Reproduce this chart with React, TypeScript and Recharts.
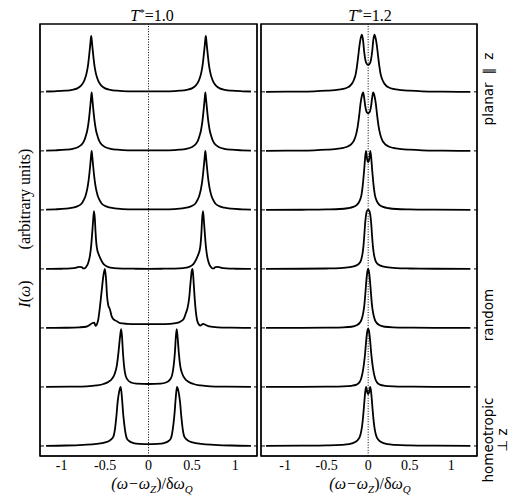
import React from "react";
import { LineChart, Line, XAxis, YAxis, ReferenceLine, ReferenceArea } from "recharts";

type Pt = [number, number];

const serif = "'Liberation Serif', 'Times New Roman', serif";
const sans = "'DejaVu Sans', sans-serif";

const xTicks = [-1, -0.5, 0, 0.5, 1];
const baselineTicks = [0, 1, 2, 3, 4, 5, 6];
const leftDomain: [number, number] = [-1.25, 1.25];
const rightDomain: [number, number] = [-1.29, 1.31];
const yDomain: [number, number] = [-0.17, 7.15];

// T* = 1.0, top (planar) to bottom (homeotropic)
const t10a: Pt[] = [
	[-1.18, 0.006], [-1.08, 0.01], [-0.96, 0.02], [-0.88, 0.035], [-0.82, 0.06], [-0.78, 0.1], [-0.75, 0.16],
	[-0.73, 0.23], [-0.71, 0.34], [-0.695, 0.47], [-0.685, 0.6], [-0.675, 0.74], [-0.668, 0.85], [-0.66, 0.95],
	[-0.652, 0.85], [-0.645, 0.74], [-0.635, 0.6], [-0.625, 0.47], [-0.61, 0.34], [-0.59, 0.23], [-0.57, 0.16],
	[-0.54, 0.1], [-0.5, 0.06], [-0.44, 0.035], [-0.36, 0.02], [-0.24, 0.01], [0, 0.008],
	[0.24, 0.01], [0.36, 0.02], [0.44, 0.035], [0.5, 0.06], [0.54, 0.1], [0.57, 0.16], [0.59, 0.23], [0.61, 0.34],
	[0.625, 0.47], [0.635, 0.6], [0.645, 0.74], [0.652, 0.85], [0.66, 0.95], [0.668, 0.85], [0.675, 0.74],
	[0.685, 0.6], [0.695, 0.47], [0.71, 0.34], [0.73, 0.23], [0.75, 0.16], [0.78, 0.1], [0.82, 0.06],
	[0.88, 0.035], [0.96, 0.02], [1.08, 0.01], [1.18, 0.006],
];
const t10b: Pt[] = [
	[-1.18, 0.006], [-1.075, 0.01], [-0.955, 0.02], [-0.875, 0.036], [-0.815, 0.062], [-0.775, 0.1], [-0.745, 0.16],
	[-0.725, 0.24], [-0.705, 0.35], [-0.69, 0.49], [-0.68, 0.62], [-0.67, 0.77], [-0.663, 0.88], [-0.655, 0.99],
	[-0.647, 0.88], [-0.64, 0.77], [-0.63, 0.62], [-0.62, 0.49], [-0.605, 0.35], [-0.585, 0.24], [-0.565, 0.16],
	[-0.535, 0.1], [-0.495, 0.062], [-0.435, 0.036], [-0.355, 0.02], [-0.235, 0.01], [0, 0.008],
	[0.235, 0.01], [0.355, 0.02], [0.435, 0.036], [0.495, 0.062], [0.535, 0.1], [0.565, 0.16], [0.585, 0.24],
	[0.605, 0.35], [0.62, 0.49], [0.63, 0.62], [0.64, 0.77], [0.647, 0.88], [0.655, 0.99], [0.663, 0.88],
	[0.67, 0.77], [0.68, 0.62], [0.69, 0.49], [0.705, 0.35], [0.725, 0.24], [0.745, 0.16], [0.775, 0.1],
	[0.815, 0.062], [0.875, 0.036], [0.955, 0.02], [1.075, 0.01], [1.18, 0.006],
];
const t10c: Pt[] = [
	[-1.18, 0.006], [-1.075, 0.01], [-0.955, 0.02], [-0.875, 0.037], [-0.815, 0.064], [-0.775, 0.1], [-0.745, 0.17],
	[-0.725, 0.24], [-0.705, 0.36], [-0.69, 0.5], [-0.68, 0.63], [-0.67, 0.78], [-0.663, 0.89], [-0.655, 1.0],
	[-0.647, 0.89], [-0.64, 0.78], [-0.63, 0.63], [-0.62, 0.5], [-0.605, 0.36], [-0.585, 0.24], [-0.565, 0.17],
	[-0.535, 0.1], [-0.495, 0.064], [-0.435, 0.037], [-0.355, 0.02], [-0.235, 0.01], [0, 0.008],
	[0.235, 0.01], [0.355, 0.02], [0.435, 0.037], [0.495, 0.064], [0.535, 0.1], [0.565, 0.17], [0.585, 0.24],
	[0.605, 0.36], [0.62, 0.5], [0.63, 0.63], [0.64, 0.78], [0.647, 0.89], [0.655, 1.0], [0.663, 0.89],
	[0.67, 0.78], [0.68, 0.63], [0.69, 0.5], [0.705, 0.36], [0.725, 0.24], [0.745, 0.17], [0.775, 0.1],
	[0.815, 0.064], [0.875, 0.037], [0.955, 0.02], [1.075, 0.01], [1.18, 0.006],
];
const t10d: Pt[] = [
	[-1.18, 0], [-1.0, 0.003], [-0.9, 0.008], [-0.84, 0.018], [-0.8, 0.035], [-0.77, 0.03], [-0.75, 0.008],
	[-0.735, 0.01], [-0.715, 0.04], [-0.695, 0.1], [-0.675, 0.22], [-0.66, 0.4], [-0.648, 0.62], [-0.638, 0.82],
	[-0.628, 0.98], [-0.618, 0.85], [-0.61, 0.62], [-0.6, 0.42], [-0.59, 0.32], [-0.575, 0.25], [-0.555, 0.18],
	[-0.53, 0.11], [-0.5, 0.06], [-0.46, 0.03], [-0.4, 0.015], [-0.3, 0.006], [-0.15, 0.003], [0, 0.002],
	[0.15, 0.003], [0.3, 0.006], [0.4, 0.015], [0.46, 0.03], [0.5, 0.06], [0.53, 0.11], [0.555, 0.18],
	[0.575, 0.25], [0.59, 0.32], [0.6, 0.42], [0.61, 0.62], [0.618, 0.85], [0.628, 0.98], [0.638, 0.82],
	[0.648, 0.62], [0.66, 0.4], [0.675, 0.22], [0.695, 0.1], [0.715, 0.04], [0.735, 0.01], [0.75, 0.008],
	[0.77, 0.03], [0.8, 0.035], [0.84, 0.018], [0.9, 0.008], [1.0, 0.003], [1.18, 0],
];
const t10e: Pt[] = [
	[-1.18, 0], [-0.95, 0.003], [-0.8, 0.01], [-0.72, 0.02], [-0.68, 0.05], [-0.65, 0.08], [-0.625, 0.09],
	[-0.61, 0.035], [-0.595, 0.06], [-0.578, 0.15], [-0.56, 0.35], [-0.54, 0.62], [-0.52, 0.88], [-0.503, 1.0],
	[-0.49, 0.85], [-0.478, 0.55], [-0.463, 0.38], [-0.443, 0.31], [-0.425, 0.2], [-0.405, 0.15], [-0.36, 0.11],
	[-0.33, 0.08], [-0.25, 0.07], [-0.12, 0.065], [0, 0.065],
	[0.12, 0.065], [0.25, 0.07], [0.33, 0.085], [0.37, 0.11], [0.405, 0.15], [0.43, 0.25], [0.45, 0.34],
	[0.468, 0.5], [0.485, 0.78], [0.5, 0.98], [0.508, 1.0], [0.518, 0.82], [0.532, 0.5], [0.545, 0.28],
	[0.56, 0.13], [0.58, 0.06], [0.6, 0.04], [0.63, 0.07], [0.66, 0.05], [0.7, 0.025], [0.8, 0.01],
	[0.95, 0.004], [1.18, 0],
];
const t10f: Pt[] = [
	[-1.18, 0], [-0.9, 0.004], [-0.71, 0.01], [-0.6, 0.025], [-0.52, 0.05], [-0.46, 0.09], [-0.42, 0.14],
	[-0.39, 0.22], [-0.365, 0.36], [-0.345, 0.6], [-0.328, 0.85], [-0.315, 0.98], [-0.305, 0.85], [-0.295, 0.6],
	[-0.282, 0.36], [-0.265, 0.2], [-0.24, 0.12], [-0.2, 0.075], [-0.14, 0.055], [0, 0.05],
	[0.14, 0.055], [0.2, 0.075], [0.245, 0.12], [0.272, 0.2], [0.29, 0.36], [0.305, 0.6], [0.315, 0.85],
	[0.325, 0.98], [0.335, 0.85], [0.348, 0.6], [0.365, 0.36], [0.39, 0.22], [0.42, 0.14], [0.46, 0.09],
	[0.52, 0.05], [0.6, 0.025], [0.71, 0.01], [0.9, 0.004], [1.18, 0],
];
const t10g: Pt[] = [
	[-1.18, 0.003], [-0.95, 0.008], [-0.75, 0.02], [-0.6, 0.035], [-0.5, 0.06], [-0.44, 0.1], [-0.405, 0.16],
	[-0.385, 0.3], [-0.37, 0.5], [-0.355, 0.75], [-0.338, 0.92], [-0.32, 1.0], [-0.305, 0.8], [-0.292, 0.55],
	[-0.28, 0.38], [-0.265, 0.22], [-0.25, 0.13], [-0.22, 0.08], [-0.175, 0.05], [-0.1, 0.035], [0, 0.03],
	[0.1, 0.035], [0.18, 0.05], [0.228, 0.08], [0.258, 0.13], [0.273, 0.22], [0.288, 0.38], [0.3, 0.55],
	[0.313, 0.8], [0.328, 1.0], [0.346, 0.92], [0.363, 0.75], [0.378, 0.5], [0.393, 0.3], [0.413, 0.16],
	[0.448, 0.1], [0.508, 0.06], [0.608, 0.035], [0.758, 0.02], [0.958, 0.008], [1.18, 0.003],
];

// T* = 1.2
const t12a: Pt[] = [
	[-1.23, 0], [-0.9, 0.004], [-0.65, 0.01], [-0.5, 0.02], [-0.4, 0.03], [-0.3, 0.05], [-0.25, 0.075],
	[-0.22, 0.1], [-0.19, 0.15], [-0.17, 0.21], [-0.15, 0.3], [-0.135, 0.43], [-0.12, 0.6], [-0.105, 0.78],
	[-0.09, 0.91], [-0.075, 0.97], [-0.062, 0.88], [-0.048, 0.68], [-0.032, 0.53], [-0.015, 0.47], [0, 0.46],
	[0.015, 0.47], [0.032, 0.53], [0.048, 0.68], [0.062, 0.88], [0.075, 0.97], [0.09, 0.91], [0.105, 0.78],
	[0.12, 0.6], [0.135, 0.43], [0.15, 0.3], [0.17, 0.21], [0.19, 0.15], [0.22, 0.1], [0.25, 0.075],
	[0.3, 0.05], [0.4, 0.03], [0.5, 0.02], [0.65, 0.01], [0.9, 0.004], [1.23, 0],
];
const t12b: Pt[] = [
	[-1.23, 0], [-0.9, 0.004], [-0.65, 0.01], [-0.5, 0.02], [-0.4, 0.03], [-0.3, 0.05], [-0.24, 0.08],
	[-0.2, 0.12], [-0.17, 0.18], [-0.145, 0.28], [-0.125, 0.42], [-0.108, 0.6], [-0.092, 0.8], [-0.075, 0.94],
	[-0.06, 0.99], [-0.048, 0.9], [-0.035, 0.76], [-0.018, 0.66], [0, 0.64],
	[0.018, 0.66], [0.035, 0.76], [0.048, 0.9], [0.06, 0.99], [0.075, 0.94], [0.092, 0.8], [0.108, 0.6],
	[0.125, 0.42], [0.145, 0.28], [0.17, 0.18], [0.2, 0.12], [0.24, 0.08], [0.3, 0.05], [0.4, 0.03],
	[0.5, 0.02], [0.65, 0.01], [0.9, 0.004], [1.23, 0],
];
const t12c: Pt[] = [
	[-1.23, 0], [-0.8, 0.003], [-0.5, 0.008], [-0.34, 0.015], [-0.25, 0.028], [-0.18, 0.05], [-0.14, 0.08],
	[-0.115, 0.12], [-0.095, 0.18], [-0.08, 0.26], [-0.068, 0.38], [-0.058, 0.52], [-0.048, 0.68], [-0.038, 0.86],
	[-0.026, 1.0], [-0.015, 0.88], [-0.006, 0.82], [0, 0.81],
	[0.006, 0.82], [0.015, 0.88], [0.026, 1.0], [0.038, 0.86], [0.048, 0.68], [0.058, 0.52], [0.068, 0.38],
	[0.08, 0.26], [0.095, 0.18], [0.115, 0.12], [0.14, 0.08], [0.18, 0.05], [0.25, 0.028], [0.34, 0.015],
	[0.5, 0.008], [0.8, 0.003], [1.23, 0],
];
const t12d: Pt[] = [
	[-1.23, 0], [-0.8, 0.003], [-0.5, 0.007], [-0.34, 0.013], [-0.22, 0.03], [-0.15, 0.055], [-0.11, 0.09],
	[-0.085, 0.15], [-0.068, 0.26], [-0.056, 0.4], [-0.046, 0.58], [-0.036, 0.78], [-0.024, 0.93], [-0.012, 0.99],
	[0, 1.0], [0.012, 0.99], [0.024, 0.93], [0.036, 0.78], [0.046, 0.58], [0.056, 0.4], [0.068, 0.26],
	[0.085, 0.15], [0.11, 0.09], [0.15, 0.055], [0.22, 0.03], [0.34, 0.013], [0.5, 0.007], [0.8, 0.003], [1.23, 0],
];
const t12e: Pt[] = [
	[-1.23, 0], [-0.8, 0.002], [-0.5, 0.005], [-0.3, 0.01], [-0.2, 0.02], [-0.14, 0.045], [-0.1, 0.09],
	[-0.08, 0.14], [-0.06, 0.25], [-0.045, 0.4], [-0.033, 0.6], [-0.022, 0.8], [-0.01, 0.95], [0, 1.0],
	[0.01, 0.95], [0.022, 0.8], [0.033, 0.6], [0.045, 0.4], [0.06, 0.25], [0.08, 0.14], [0.1, 0.09],
	[0.14, 0.045], [0.2, 0.02], [0.3, 0.01], [0.5, 0.005], [0.8, 0.002], [1.23, 0],
];
const t12f: Pt[] = [
	[-1.23, 0], [-0.8, 0.002], [-0.5, 0.005], [-0.3, 0.01], [-0.2, 0.02], [-0.14, 0.04], [-0.105, 0.08],
	[-0.085, 0.14], [-0.066, 0.25], [-0.05, 0.4], [-0.036, 0.58], [-0.024, 0.78], [-0.011, 0.94], [0, 0.99],
	[0.011, 0.94], [0.024, 0.78], [0.036, 0.58], [0.05, 0.4], [0.066, 0.25], [0.085, 0.14], [0.105, 0.08],
	[0.14, 0.04], [0.2, 0.02], [0.3, 0.01], [0.5, 0.005], [0.8, 0.002], [1.23, 0],
];
const t12g: Pt[] = [
	[-1.23, 0.002], [-0.8, 0.005], [-0.5, 0.01], [-0.33, 0.018], [-0.23, 0.03], [-0.15, 0.07], [-0.12, 0.11],
	[-0.1, 0.16], [-0.085, 0.24], [-0.073, 0.34], [-0.062, 0.48], [-0.052, 0.64], [-0.043, 0.8], [-0.033, 0.94],
	[-0.024, 1.0], [-0.014, 0.93], [-0.006, 0.89], [0, 0.88],
	[0.006, 0.89], [0.014, 0.93], [0.024, 1.0], [0.033, 0.94], [0.043, 0.8], [0.052, 0.64], [0.062, 0.48],
	[0.073, 0.34], [0.085, 0.24], [0.1, 0.16], [0.12, 0.11], [0.15, 0.07], [0.23, 0.03], [0.33, 0.018],
	[0.5, 0.01], [0.8, 0.005], [1.23, 0.002],
];

const t10Spectra = [t10a, t10b, t10c, t10d, t10e, t10f, t10g];
const t12Spectra = [t12a, t12b, t12c, t12d, t12e, t12f, t12g];

const toRows = (pts: Pt[], level: number) => pts.map(([x, y]) => ({ x, y: y + level }));

// x tick label in Times-like serif
const XTick = ({ x, y, payload }: any) => (
	<text x={x} y={y} dy={10} textAnchor="middle" fontFamily={serif} fontSize={14} fill="#000">
		{payload.value}
	</text>
);

// short inward tick marks on the frame
const LeftTick = ({ x, y }: any) => <line x1={x} x2={x + 4} y1={y} y2={y} stroke="#000" strokeWidth={1} />;
const RightTick = ({ x, y }: any) => <line x1={x - 3} x2={x} y1={y} y2={y} stroke="#000" strokeWidth={1} />;

type PanelProps = {
	spectra: Pt[][];
	domain: [number, number];
	left: number;
	width: number;
	marginLeft: number;
	marginRight: number;
};

const SpectraPanel = ({ spectra, domain, left, width, marginLeft, marginRight }: PanelProps) => (
	<div style={{ position: "absolute", left, top: 0 }}>
		<LineChart
			width={width}
			height={497}
			margin={{ top: 24, right: marginRight, bottom: 0, left: marginLeft }}
		>
			<XAxis
				xAxisId="b"
				type="number"
				dataKey="x"
				domain={domain}
				ticks={xTicks}
				interval={0}
				allowDataOverflow
				height={41}
				stroke="#000"
				tickSize={0}
				tickMargin={4}
				tickLine={false}
				tick={<XTick />}
			/>
			<YAxis
				yAxisId="l"
				type="number"
				domain={yDomain}
				ticks={baselineTicks}
				interval={0}
				allowDataOverflow
				width={1}
				stroke="#000"
				tickSize={0}
				tickMargin={0}
				tickLine={false}
				tick={<LeftTick />}
			/>
			<YAxis
				yAxisId="r"
				orientation="right"
				type="number"
				domain={yDomain}
				ticks={baselineTicks}
				interval={0}
				allowDataOverflow
				width={1}
				stroke="#000"
				tickSize={0}
				tickMargin={0}
				tickLine={false}
				tick={<RightTick />}
			/>
			<ReferenceArea
				xAxisId="b"
				yAxisId="l"
				x1={domain[0]}
				x2={domain[1]}
				y1={yDomain[0]}
				y2={yDomain[1]}
				fill="none"
				fillOpacity={0}
				stroke="#000"
				strokeWidth={1.5}
				ifOverflow="visible"
			/>
			<ReferenceLine
				xAxisId="b"
				yAxisId="l"
				x={0}
				stroke="#000"
				strokeWidth={1}
				strokeDasharray="1 1.6"
			/>
			{spectra.map((pts, i) => (
				<Line
					key={i}
					xAxisId="b"
					yAxisId="l"
					data={toRows(pts, spectra.length - 1 - i)}
					dataKey="y"
					type="monotone"
					stroke="#000"
					strokeWidth={1.8}
					dot={false}
					isAnimationActive={false}
				/>
			))}
		</LineChart>
	</div>
);

const XLabel = ({ x }: { x: number }) => (
	<text x={x} y={489} textAnchor="middle" fontFamily={serif} fontSize={16} fill="#000">
		<tspan fontStyle="italic">(ω−ω</tspan>
		<tspan fontStyle="italic" fontSize={11} dy={4}>Z</tspan>
		<tspan dy={-4}>)/δ</tspan>
		<tspan fontStyle="italic">ω</tspan>
		<tspan fontStyle="italic" fontSize={11} dy={4}>Q</tspan>
	</text>
);

const Title = ({ x, t }: { x: number; t: string }) => (
	<text x={x} y={21} textAnchor="middle" fontFamily={serif} fontSize={16} fill="#000">
		<tspan fontStyle="italic">T</tspan>
		<tspan fontSize={11} dy={-5}>*</tspan>
		<tspan dy={5}>={t}</tspan>
	</text>
);

const SideLabel = ({ x, y, children }: { x: number; y: number; children: React.ReactNode }) => (
	<text
		x={x}
		y={y}
		transform={`rotate(-90 ${x} ${y})`}
		textAnchor="middle"
		fontFamily={sans}
		fontSize={13.5}
		fill="#000"
	>
		{children}
	</text>
);

export default function App() {
	return (
		<div style={{ position: "absolute", left: 0, top: 0, width: 512, height: 497, background: "#fff" }}>
			<SpectraPanel spectra={t10Spectra} domain={leftDomain} left={0} width={259} marginLeft={39} marginRight={1} />
			<SpectraPanel spectra={t12Spectra} domain={rightDomain} left={259} width={253} marginLeft={1} marginRight={34} />
			<svg
				width={512}
				height={497}
				style={{ position: "absolute", left: 0, top: 0, pointerEvents: "none" }}
			>
				<Title x={152} t="1.0" />
				<Title x={370} t="1.2" />
				<XLabel x={152} />
				<XLabel x={370} />
				<text
					x={30}
					y={199}
					transform="rotate(-90 30 199)"
					textAnchor="middle"
					fontFamily={serif}
					fontSize={16}
					fill="#000"
				>
					(arbitrary units)
				</text>
				<text
					x={30}
					y={294}
					transform="rotate(-90 30 294)"
					textAnchor="middle"
					fontFamily={serif}
					fontSize={16}
					fill="#000"
				>
					<tspan fontStyle="italic">I</tspan>(<tspan fontStyle="italic">ω</tspan>)
				</text>
				<SideLabel x={493} y={89}>
					planar<tspan dx={8}>∥</tspan><tspan dx={8}>z</tspan>
				</SideLabel>
				<SideLabel x={493} y={315}>random</SideLabel>
				<SideLabel x={493} y={440}>homeotropic</SideLabel>
				<SideLabel x={507} y={440}>⊥ z</SideLabel>
			</svg>
		</div>
	);
}
